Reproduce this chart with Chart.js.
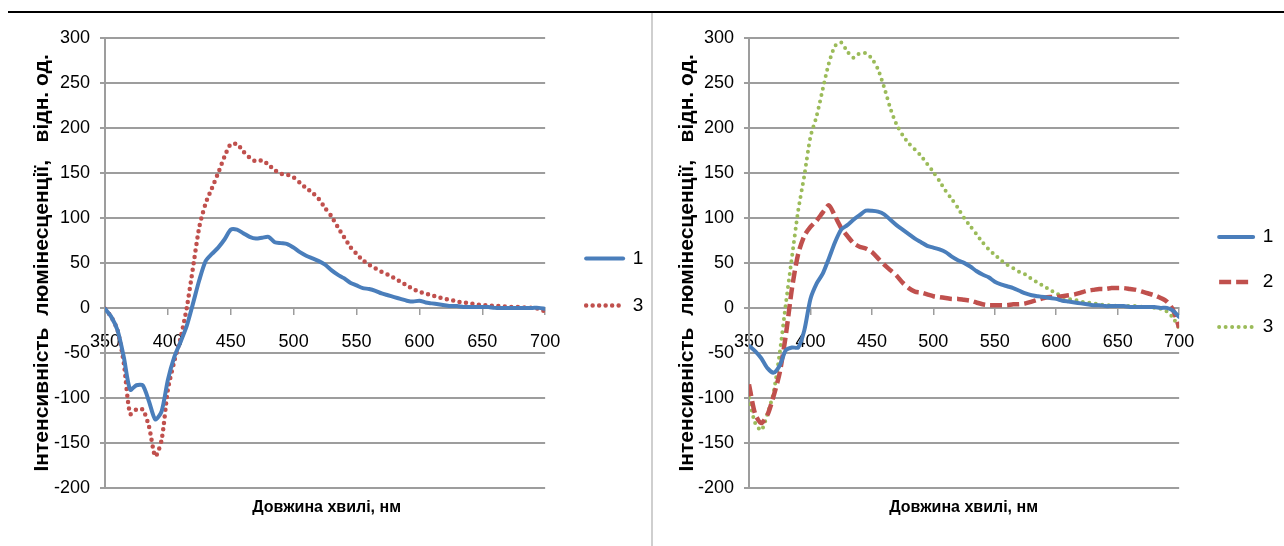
<!DOCTYPE html>
<html>
<head>
<meta charset="utf-8">
<script src="https://cdn.jsdelivr.net/npm/chart.js@4.4.1/dist/chart.umd.min.js"></script>
<style>
  html, body { margin: 0; padding: 0; background: #fff; }
  body { width: 1284px; height: 546px; position: relative; overflow: hidden; }
  #topLine { position: absolute; left: 8px; top: 11px; width: 1276px; height: 2px; background: #000; }
  #sep { position: absolute; left: 651px; top: 13px; width: 2px; height: 533px; background: #cfcfcf; }
  #chartL { position: absolute; left: 0; top: 0; }
  #chartR { position: absolute; left: 644px; top: 0; }
</style>
</head>
<body>
<div id="topLine"></div>
<div id="sep"></div>
<canvas id="chartL" width="654" height="546"></canvas>
<canvas id="chartR" width="640" height="546"></canvas>
<script>
// wavelength grid, nm
const wavelengths = [350, 355, 360, 365, 370, 375, 380, 385, 390, 395,
  400, 405, 410, 415, 420, 425, 430, 435, 440, 445,
  450, 455, 460, 465, 470, 475, 480, 485, 490, 495,
  500, 505, 510, 515, 520, 525, 530, 535, 540, 545,
  550, 555, 560, 565, 570, 575, 580, 585, 590, 595,
  600, 605, 610, 615, 620, 625, 630, 635, 640, 645,
  650, 655, 660, 665, 670, 675, 680, 685, 690, 695, 700];

// left panel
const leftSeries1 = [-1, -10, -25, -55, -91, -86, -86, -104, -124, -115,
  -80, -55, -38, -20, 5, 31, 52, 60, 67, 76,
  87, 87, 83, 79, 77, 78, 79, 73, 72, 71,
  67, 62, 58, 55, 52, 48, 42, 37, 33, 28,
  25, 22, 21, 19, 16, 14, 12, 10, 8, 7,
  8, 6, 5, 4, 3, 2, 2, 1, 1, 1,
  1, 1, 0, 0, 0, 0, 0, 0, 0, 0, -1];
const leftSeries3 = [-1, -10, -25, -62, -118, -113, -113, -132, -165, -147,
  -91, -60, -34, 0, 45, 90, 116, 133, 150, 168,
  182, 182, 174, 167, 163, 164, 159, 153, 149, 148,
  145, 139, 133, 128, 121, 111, 102, 90, 79, 68,
  60, 53, 48, 44, 40, 37, 33, 29, 25, 21,
  18, 16, 14, 12, 10, 9, 7, 6, 5, 4,
  3, 3, 2, 2, 1, 1, 1, 0, 0, -1, -4];

// right panel
const rightSeries1 = [-42, -48, -56, -67, -72, -64, -47, -44, -44, -25,
  10, 27, 38, 55, 73, 87, 92, 98, 103, 108,
  108, 107, 104, 98, 92, 87, 82, 77, 73, 69,
  67, 65, 62, 57, 53, 50, 46, 41, 37, 34,
  29, 26, 24, 22, 19, 16, 14, 13, 12, 11,
  10, 8, 7, 6, 5, 4, 3, 3, 2, 2,
  2, 2, 1, 1, 1, 1, 1, 0, 0, -3, -10];
const rightSeries2 = [-85, -118, -128, -119, -98, -72, -30, 22, 60, 80,
  90, 97, 106, 114, 102, 89, 80, 72, 68, 66,
  62, 55, 48, 42, 36, 28, 22, 18, 17, 15,
  13, 12, 11, 10, 10, 9, 8, 6, 4, 3,
  3, 3, 3, 4, 4, 5, 7, 9, 11, 12,
  12, 13, 14, 15, 17, 19, 20, 21, 21, 22,
  22, 22, 21, 20, 18, 16, 14, 11, 7, -2, -22];
const rightSeries3 = [-100, -128, -136, -118, -94, -50, 5, 57, 108, 147,
  190, 213, 243, 272, 291, 295, 285, 278, 283, 283,
  277, 265, 245, 222, 204, 192, 183, 176, 169, 160,
  151, 141, 130, 121, 111, 100, 91, 82, 73, 65,
  59, 53, 48, 44, 40, 37, 32, 28, 24, 20,
  16, 13, 10, 9, 7, 6, 5, 4, 3, 3,
  2, 2, 2, 2, 1, 1, 0, -1, -4, -11, -23];

const xTitle = 'Довжина хвилі, нм';
const yTitle = 'Інтенсивність  люмінесценції,   відн. од.';

const BLUE = '#4a7ebb';
const RED = '#c0504d';
const GREEN = '#9bbb59';
const GRID = '#9d9d9d';
const NARROW = "'Liberation Sans Narrow', 'Liberation Sans', Arial, sans-serif";

function toPoints(ys) {
  return ys.map((v, i) => ({ x: wavelengths[i], y: v }));
}

function solid(label, ys) {
  return { label: label, data: toPoints(ys), borderColor: BLUE, backgroundColor: BLUE,
    borderWidth: 4, borderCapStyle: 'round' };
}
function dotted(label, ys, color, w, gap) {
  return { label: label, data: toPoints(ys), borderColor: color, backgroundColor: color,
    borderWidth: w, borderDash: [0, gap], borderCapStyle: 'round' };
}
function dashed(label, ys, color) {
  return { label: label, data: toPoints(ys), borderColor: color, backgroundColor: color,
    borderWidth: 4.5, borderDash: [12, 5], borderCapStyle: 'butt' };
}

// legend sample lines copy the dataset line style
function legendLabels(chart) {
  const items = Chart.defaults.plugins.legend.labels.generateLabels(chart);
  items.forEach(it => {
    const ds = chart.data.datasets[it.datasetIndex];
    it.lineDash = ds.borderDash || [];
    it.lineCap = ds.borderCapStyle;
    it.lineWidth = ds.borderWidth;
    it.strokeStyle = ds.borderColor;
    it.fillStyle = ds.borderColor;
    it.pointStyle = 'line';
  });
  return items;
}

function makeOptions(o) {
  return {
    responsive: false,
    animation: false,
    layout: { padding: { top: 18, left: 0, right: o.padRight, bottom: 0 } },
    elements: { point: { radius: 0 }, line: { tension: 0.25, borderJoinStyle: 'round' } },
    plugins: {
      legend: {
        position: 'right',
        labels: {
          usePointStyle: true, pointStyle: 'line', pointStyleWidth: o.legendLine,
          padding: o.legendPad, color: '#000',
          font: { family: NARROW, size: 19 },
          generateLabels: legendLabels
        }
      },
      title: {
        display: true, position: 'bottom', text: xTitle, color: '#000',
        font: { family: NARROW, size: 16, weight: 'bold' },
        padding: { top: 10, bottom: 29 }
      },
      tooltip: { enabled: false }
    },
    scales: {
      x: {
        type: 'linear', position: { y: 0 }, min: 350, max: 700,
        grid: { drawOnChartArea: false, color: GRID, lineWidth: 1.5, tickLength: 6 },
        border: { color: GRID, width: 2 },
        ticks: { stepSize: 50, color: '#000', font: { family: NARROW, size: 18 },
          padding: 17, maxRotation: 0, autoSkip: false }
      },
      y: {
        position: 'left', min: -200, max: 300,
        grid: { color: GRID, lineWidth: 2, tickLength: 5 },
        border: { color: GRID, width: 2 },
        ticks: { stepSize: 50, color: '#000', font: { family: NARROW, size: 18 }, padding: 10 },
        title: { display: true, text: yTitle, color: '#000',
          font: { family: "'Liberation Sans', Arial, sans-serif", size: 21, weight: 'bold' },
          padding: { top: o.yTitlePad, bottom: 0 } },
        afterFit: s => { s.width = 105; s.paddingTop = 38; }
      },
      gap: {
        type: 'linear', position: 'right', display: true,
        grid: { display: false }, border: { display: false }, ticks: { display: false },
        afterFit: s => { s.width = o.gap; }
      }
    }
  };
}

new Chart(document.getElementById('chartL'), {
  type: 'line',
  data: { datasets: [
    solid('1', leftSeries1),
    dotted('3', leftSeries3, RED, 4.5, 6.5)
  ] },
  options: makeOptions({ padRight: 0.8, legendLine: 37, legendPad: 28, gap: 13, yTitlePad: 29.5 })
});

new Chart(document.getElementById('chartR'), {
  type: 'line',
  data: { datasets: [
    solid('1', rightSeries1),
    dashed('2', rightSeries2, RED),
    dotted('3', rightSeries3, GREEN, 4, 6.5)
  ] },
  options: makeOptions({ padRight: 0.8, legendLine: 34, legendPad: 26, gap: 14, yTitlePad: 30.5 })
});
</script>
</body>
</html>
